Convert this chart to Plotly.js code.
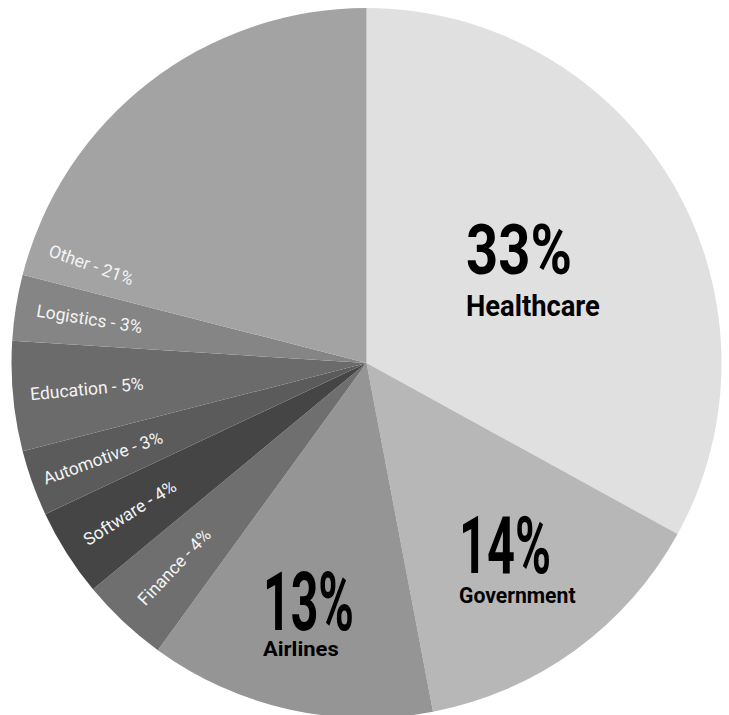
<!DOCTYPE html>
<html>
<head>
<meta charset="utf-8">
<script src="https://cdn.plot.ly/plotly-3.0.1.min.js"></script>
<style>
  html, body { margin: 0; padding: 0; background: #ffffff; overflow: hidden; }
  #chart { width: 729px; height: 726px; }
</style>
</head>
<body>
<div id="chart"></div>
<script>
// ---- data ----
const categories = ["Healthcare", "Government", "Airlines", "Finance", "Software", "Automotive", "Education", "Logistics", "Other"];
const shares = [33, 14, 13, 4, 4, 3, 5, 3, 21];
const sliceColors = ["#e0e0e0", "#b7b7b7", "#959595", "#6f6f6f", "#454545", "#5b5b5b", "#6b6b6b", "#858585", "#a3a3a3"];
const bigLabels = ["Healthcare", "Government", "Airlines"];

// ---- layout config ----
const W = 729, H = 726;
const CX = 366.5, CY = 363, R = 355;
const smallFont = { family: "Roboto, sans-serif", size: 17.5, color: "#f4f4f4" };
const bigFamily = "Roboto, sans-serif";
// text block placement for large labels (pixels from top-left): left edge, centre of number, centre of name,
// font sizes and the condensed widths the texts are squeezed to
const bigPlace = {
  Healthcare: { left: 464, numY: 250, nameY: 306, numSize: 70, nameSize: 30, numW: 106, nameW: 134 },
  Government: { left: 457, numY: 546, nameY: 595, numSize: 80, nameSize: 22.5, numW: 92, nameW: 117 },
  Airlines:   { left: 261, numY: 602, nameY: 649, numSize: 82, nameSize: 21, numW: 91, nameW: 76 }
};
const smallRadius = 0.79;

const total = shares.reduce((a, b) => a + b, 0);
const annotations = [];
const squeeze = []; // [annotation index, target width]
let cum = 0;
categories.forEach((cat, i) => {
  const start = cum / total * 360;
  cum += shares[i];
  const end = cum / total * 360;
  if (bigLabels.includes(cat)) {
    const p = bigPlace[cat];
    squeeze.push([annotations.length, p.numW]);
    annotations.push({
      xref: "paper", yref: "paper", x: p.left / W, y: 1 - p.numY / H,
      xanchor: "left", yanchor: "middle", showarrow: false, align: "left",
      text: "<b>" + shares[i] + "%</b>",
      font: { family: bigFamily, size: p.numSize, color: "#000000" }
    });
    squeeze.push([annotations.length, p.nameW]);
    annotations.push({
      xref: "paper", yref: "paper", x: p.left / W, y: 1 - p.nameY / H,
      xanchor: "left", yanchor: "middle", showarrow: false, align: "left",
      text: "<b>" + cat + "</b>",
      font: { family: bigFamily, size: p.nameSize, color: "#000000" }
    });
  } else {
    // label angle: middle of slice; the large "Other" slice keeps its label near its lower edge
    let ang = (cat === "Other") ? start + 5.2 : (start + end) / 2;
    const rad = ang * Math.PI / 180;
    const r = (cat === "Other" ? 0.823 : smallRadius) * R;
    const px = CX + r * Math.sin(rad);
    const py = CY - r * Math.cos(rad);
    annotations.push({
      xref: "paper", yref: "paper", x: px / W, y: 1 - py / H,
      xanchor: "center", yanchor: "middle", showarrow: false,
      textangle: ang - 270,
      text: cat + " - " + shares[i] + "%",
      font: smallFont
    });
  }
});

const trace = {
  type: "pie",
  labels: categories,
  values: shares,
  sort: false,
  direction: "clockwise",
  rotation: 0,
  textinfo: "none",
  hoverinfo: "label+percent",
  marker: { colors: sliceColors, line: { width: 0 } },
  domain: { x: [(CX - R) / W, (CX + R) / W], y: [0, 1] },
  showlegend: false
};

const layout = {
  width: W, height: H,
  margin: { l: 0, r: 0, t: 0, b: 0, pad: 0 },
  paper_bgcolor: "#ffffff",
  showlegend: false,
  annotations: annotations
};

Plotly.newPlot("chart", [trace], layout, { displayModeBar: false, staticPlot: true }).then(gd => {
  // squeeze the big labels horizontally to imitate a condensed typeface
  const groups = gd.querySelectorAll("g.annotation");
  squeeze.forEach(([idx, target]) => {
    const g = gd.querySelector('g.annotation[data-index="' + idx + '"]') || groups[idx];
    if (!g) return;
    const t = g.querySelector("text.annotation-text");
    if (!t) return;
    const bb = t.getBBox();
    const s = target / bb.width;
    const x0 = bb.x;
    const prev = t.getAttribute("transform") || "";
    t.setAttribute("transform", prev + " translate(" + x0 + ",0) scale(" + s + ",1) translate(" + (-x0) + ",0)");
  });
});
</script>
</body>
</html>
